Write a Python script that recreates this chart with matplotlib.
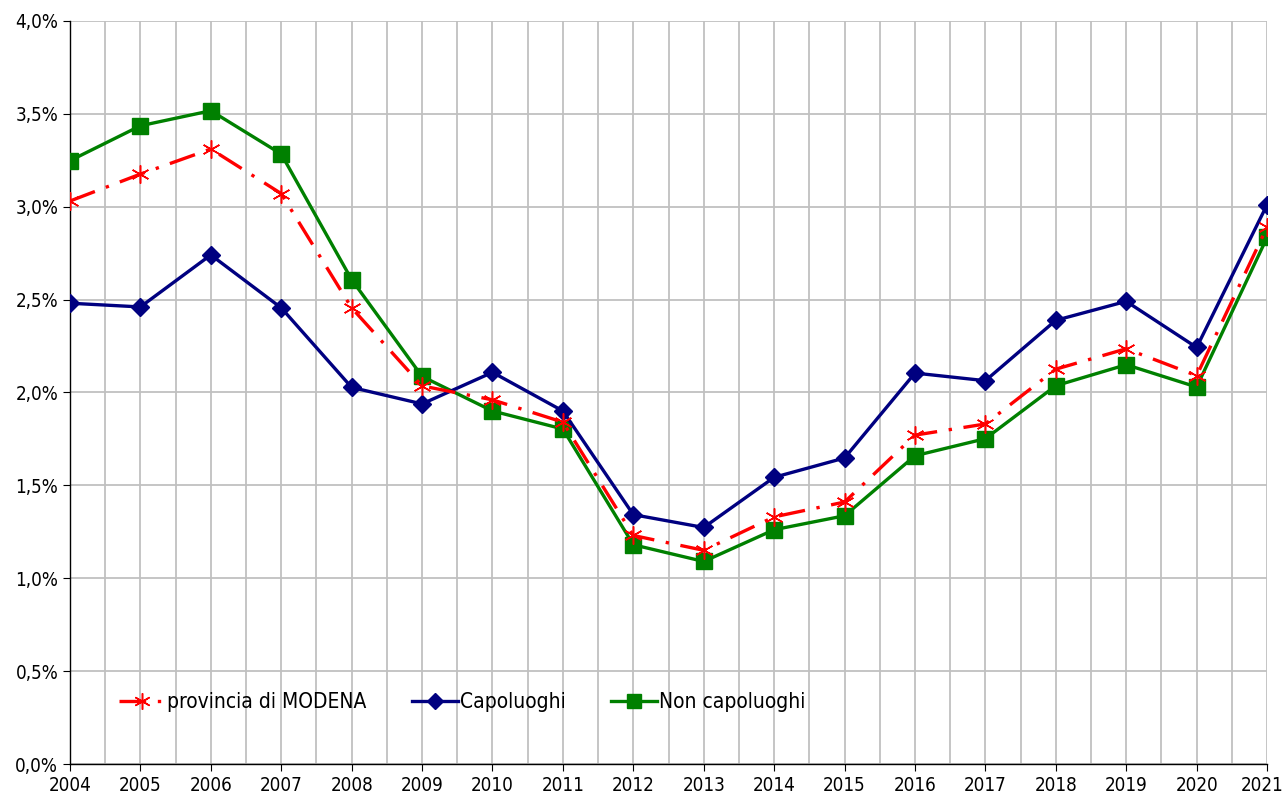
import matplotlib
matplotlib.use('Agg')
import matplotlib.pyplot as plt
from matplotlib.ticker import FuncFormatter, MultipleLocator

years = list(range(2004, 2022))
provincia = [3.03, 3.175, 3.31, 3.07, 2.455, 2.035, 1.96, 1.84, 1.23, 1.15,
             1.33, 1.41, 1.77, 1.83, 2.125, 2.235, 2.09, 2.89]
capoluoghi = [2.48, 2.46, 2.74, 2.455, 2.027, 1.938, 2.108, 1.90, 1.342, 1.273,
              1.543, 1.647, 2.104, 2.063, 2.388, 2.49, 2.242, 3.01]
non_capoluoghi = [3.247, 3.435, 3.516, 3.283, 2.607, 2.086, 1.90, 1.803, 1.18, 1.09,
                  1.261, 1.336, 1.659, 1.751, 2.036, 2.149, 2.029, 2.834]
year_labels = [str(y) for y in years]

plt.rcParams['font.family'] = ['DejaVu Sans']
plt.rcParams['font.stretch'] = 'condensed'

fig = plt.figure(figsize=(12.84, 8), dpi=100)
ax = fig.add_axes([0.0545, 0.045, 0.9323, 0.929])

ax.plot(years, non_capoluoghi, color='#008000', lw=2.4, marker='s', ms=11,
        label='Non capoluoghi', zorder=3)
ax.plot(years, capoluoghi, color='#000080', lw=2.4, marker='D', ms=9,
        label='Capoluoghi', zorder=4)
ax.plot(years, provincia, color='#ff0000', lw=2.4, dashes=(8, 3.5, 1, 3.5),
        marker=(6, 2, 0), ms=13, mew=1.1, label='provincia di MODENA', zorder=5)

ax.set_xlim(2004, 2021)
ax.set_ylim(0, 4.0)
# last year label drawn separately so it stays inside the figure
ax.set_xticks(years, year_labels[:-1] + [''])
ax.xaxis.set_minor_locator(MultipleLocator(0.5))
ax.yaxis.set_major_locator(MultipleLocator(0.5))
ax.yaxis.set_major_formatter(FuncFormatter(lambda v, p: ('%.1f%%' % v).replace('.', ',')))
ax.annotate(year_labels[-1], xy=(years[-1], 0), xycoords=('data', 'axes fraction'),
            xytext=(11.5, -8.5), textcoords='offset points', ha='right', va='top',
            fontsize=13.5)

ax.grid(True, which='both', axis='x', color='#c0c0c0', lw=1.3)
ax.grid(True, which='major', axis='y', color='#c0c0c0', lw=1.3)
ax.set_axisbelow(True)
for s in ['top', 'right']:
    ax.spines[s].set_visible(False)
for s in ['left', 'bottom']:
    ax.spines[s].set_color('black')
    ax.spines[s].set_linewidth(1.0)
ax.tick_params(axis='both', which='major', labelsize=13.5, length=5, direction='out')
ax.tick_params(axis='x', which='minor', length=0)

handles, labels = ax.get_legend_handles_labels()
order = [2, 1, 0]
ax.legend([handles[i] for i in order], [labels[i] for i in order],
          loc='lower left', bbox_to_anchor=(0.025, 0.045), ncol=3, frameon=False,
          fontsize=15, columnspacing=2.2, handlelength=2.2, handletextpad=0.1,
          markerscale=0.9)

fig.savefig('out.png', dpi=100)
